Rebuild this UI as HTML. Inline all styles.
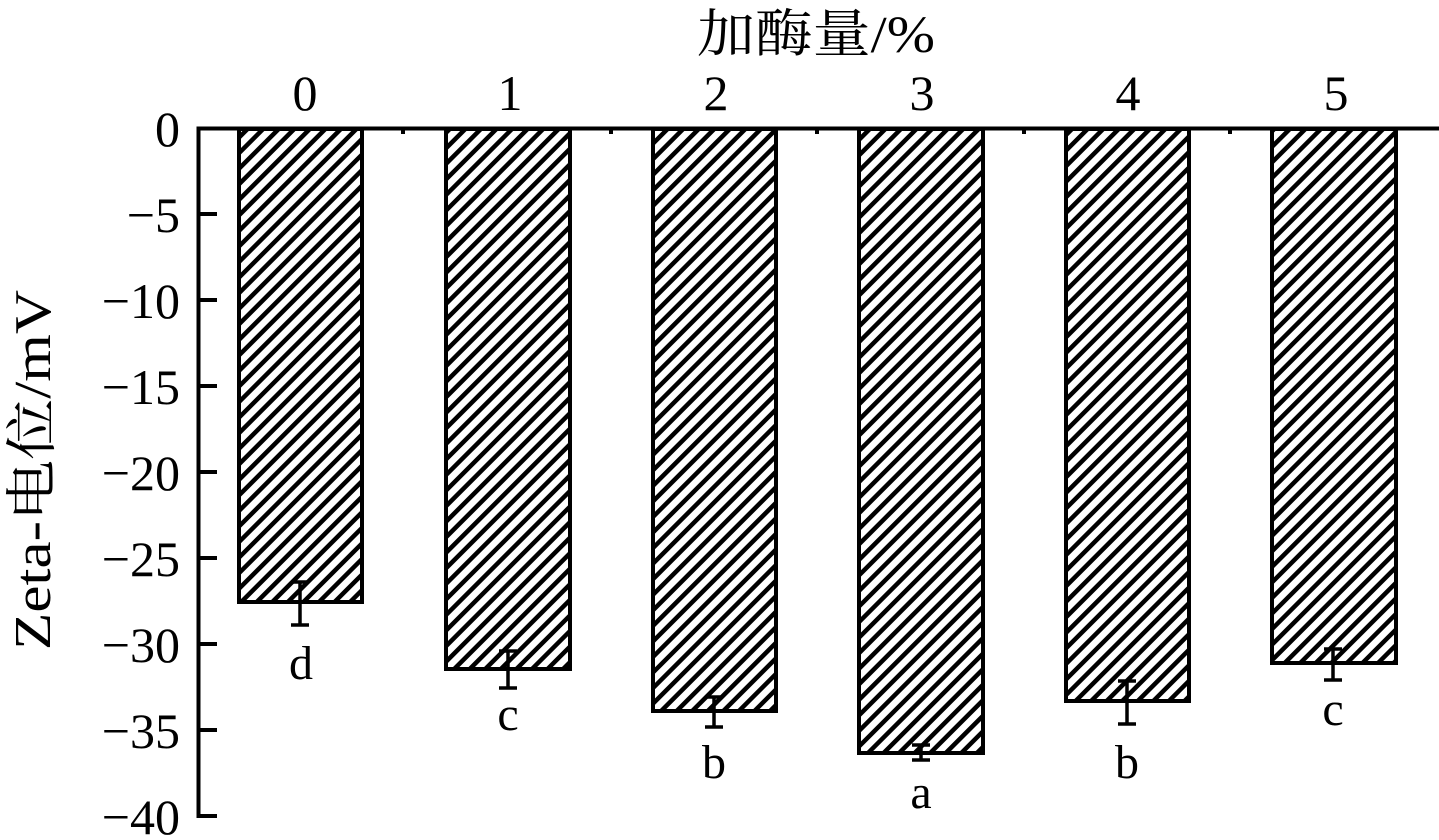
<!DOCTYPE html>
<html><head><meta charset="utf-8"><style>html,body{margin:0;padding:0;background:#fff}svg{display:block}</style></head>
<body>
<svg width="1439" height="840" xmlns="http://www.w3.org/2000/svg" font-family="'Liberation Serif','Noto Serif CJK SC',serif">
<defs>
<pattern id="h" patternUnits="userSpaceOnUse" width="11" height="11" patternTransform="rotate(45)">
<rect width="11" height="11" fill="#fff"/>
<rect x="0" y="0" width="4.5" height="11" fill="#000"/>
</pattern>
</defs>
<line x1="198.5" y1="128.5" x2="1439" y2="128.5" stroke="#000" stroke-width="4"/>
<line x1="198.5" y1="126.5" x2="198.5" y2="818" stroke="#000" stroke-width="4"/>
<g stroke="#000" stroke-width="4">
<line x1="198" y1="214" x2="217" y2="214"/>
<line x1="198" y1="300" x2="217" y2="300"/>
<line x1="198" y1="386" x2="217" y2="386"/>
<line x1="198" y1="472" x2="217" y2="472"/>
<line x1="198" y1="558" x2="217" y2="558"/>
<line x1="198" y1="644" x2="217" y2="644"/>
<line x1="198" y1="730" x2="217" y2="730"/>
<line x1="198" y1="816" x2="217" y2="816"/>
<line x1="300" y1="128" x2="300" y2="142"/>
<line x1="403" y1="128" x2="403" y2="134"/>
<line x1="508" y1="128" x2="508" y2="142"/>
<line x1="611" y1="128" x2="611" y2="134"/>
<line x1="714" y1="128" x2="714" y2="142"/>
<line x1="817" y1="128" x2="817" y2="134"/>
<line x1="921" y1="128" x2="921" y2="142"/>
<line x1="1024" y1="128" x2="1024" y2="134"/>
<line x1="1127" y1="128" x2="1127" y2="142"/>
<line x1="1230" y1="128" x2="1230" y2="134"/>
<line x1="1333" y1="128" x2="1333" y2="142"/>
</g>
<g fill="url(#h)" stroke="#000" stroke-width="4">
<rect x="239" y="129" width="123" height="473"/>
<rect x="446" y="129" width="124" height="540"/>
<rect x="653" y="129" width="123" height="582"/>
<rect x="859" y="129" width="124" height="624"/>
<rect x="1066" y="129" width="123" height="572"/>
<rect x="1272" y="129" width="124" height="534"/>
</g>
<g stroke="#000" stroke-width="3.5" fill="none">
<path d="M300 582V625M291 582H309M291 625H309"/>
<path d="M508 651V688M499 651H517M499 688H517"/>
<path d="M714 697V727M705 697H723M705 727H723"/>
<path d="M921 745V760M912 745H930M912 760H930"/>
<path d="M1127 681V724M1118 681H1136M1118 724H1136"/>
<path d="M1333 649V680M1324 649H1342M1324 680H1342"/>
</g>
<g font-size="48" text-anchor="middle">
<text x="301" y="679">d</text>
<text x="508" y="730">c</text>
<text x="714" y="778">b</text>
<text x="921" y="808">a</text>
<text x="1127" y="778">b</text>
<text x="1333" y="725">c</text>
</g>
<g font-size="50" text-anchor="end">
<text x="180" y="146">0</text>
<text x="180" y="232">−5</text>
<text x="180" y="318">−10</text>
<text x="180" y="404">−15</text>
<text x="180" y="490">−20</text>
<text x="180" y="576">−25</text>
<text x="180" y="662">−30</text>
<text x="180" y="748">−35</text>
<text x="180" y="834">−40</text>
</g>
<g font-size="50" text-anchor="middle">
<text x="305" y="110">0</text>
<text x="510" y="110">1</text>
<text x="716" y="110">2</text>
<text x="922" y="110">3</text>
<text x="1128" y="110">4</text>
<text x="1336" y="110">5</text>
</g>
<text x="697" y="52" font-size="52" textLength="238" lengthAdjust="spacingAndGlyphs">加酶量/%</text>
<text transform="translate(50,650) rotate(-90)" font-size="52" textLength="360" lengthAdjust="spacingAndGlyphs">Zeta-电位/mV</text>
</svg>
</body></html>
